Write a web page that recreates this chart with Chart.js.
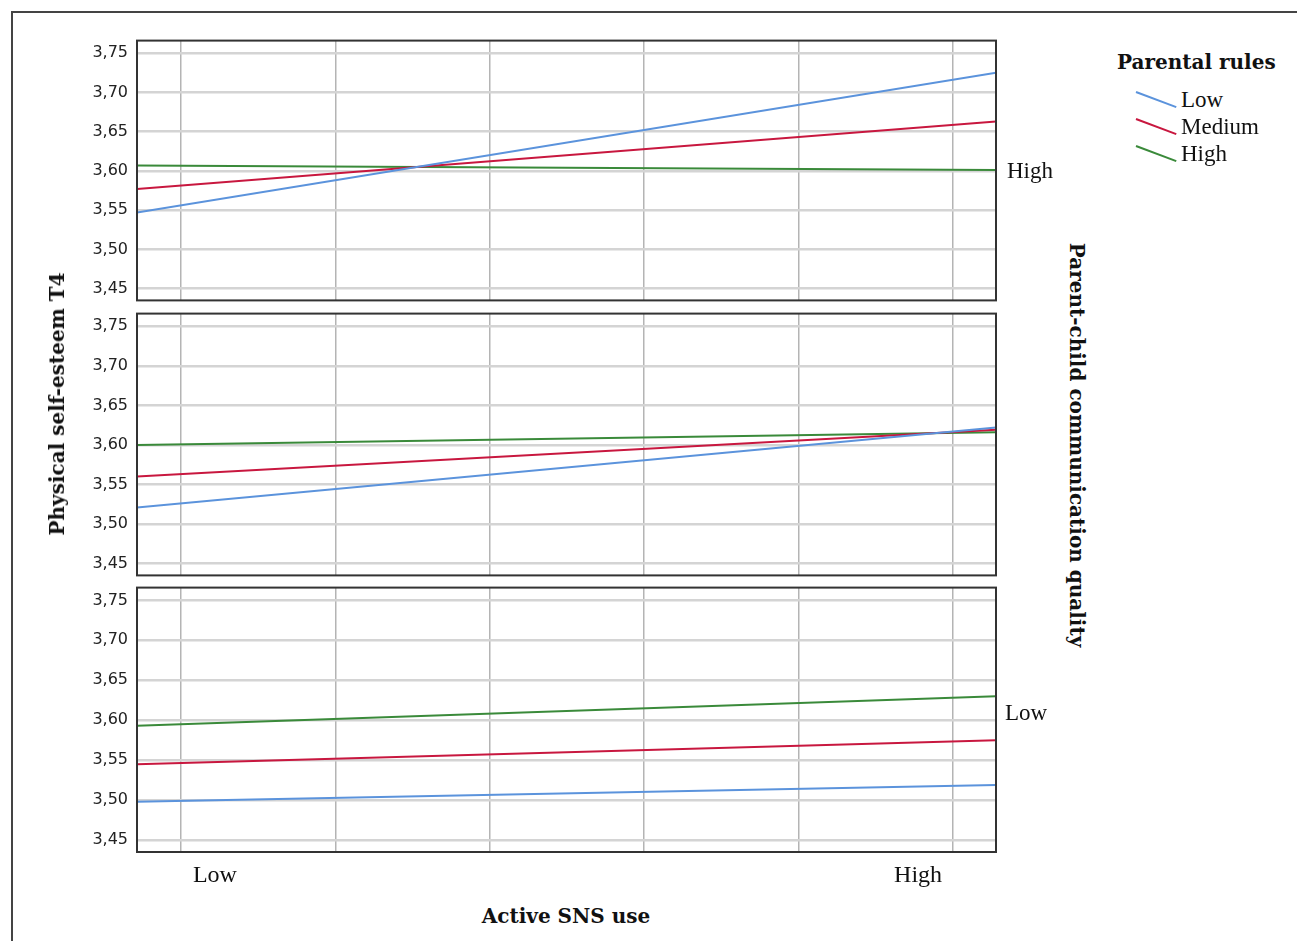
<!DOCTYPE html>
<html>
<head>
<meta charset="utf-8">
<script src="https://cdn.jsdelivr.net/npm/chart.js@4.4.0/dist/chart.umd.min.js"></script>
<style>
  body { margin: 0; background: #fff; width: 1297px; height: 941px; overflow: hidden; position: relative; font-family: "Liberation Serif", serif; color: #111; }
  #frame { position: absolute; left: 11px; top: 11px; width: 1400px; height: 1000px; border: 2px solid #444; }
  canvas { position: absolute; left: 20px; }
  .txt { position: absolute; white-space: nowrap; font-size: 22px; line-height: 1; }
  .bold { font-family: "DejaVu Serif", serif; font-weight: bold; font-size: 20px; }
  .legline { position: absolute; height: 2px; width: 43px; transform-origin: 0 50%; transform: rotate(20.6deg); }
</style>
</head>
<body>
<div id="frame"></div>
<canvas id="panelTop" width="990" height="297" style="top:22px"></canvas>
<canvas id="panelMid" width="990" height="299" style="top:295px"></canvas>
<canvas id="panelBot" width="990" height="323" style="top:569px"></canvas>

<div class="txt bold" style="left:57px;top:404px;transform:translate(-50%,-50%) rotate(-90deg)">Physical self-esteem T4</div>
<div class="txt bold" style="left:1077px;top:445px;transform:translate(-50%,-50%) rotate(90deg)">Parent-child communication quality</div>
<div class="txt bold" style="left:566px;top:916px;transform:translate(-50%,-50%)">Active SNS use</div>
<div class="txt" style="left:1007px;top:170px;transform:translateY(-50%);font-size:23px">High</div>
<div class="txt" style="left:1005px;top:712px;transform:translateY(-50%);font-size:23px">Low</div>
<div class="txt bold" style="left:1117px;top:62px;transform:translateY(-50%)">Parental rules</div>
<div id="legend"></div>

<script>
// Parental rules groups (series)
const seriesNames = ['Low', 'Medium', 'High'];
const seriesColors = ['#5b93dc', '#c8173f', '#3a8a3a'];

// x positions of the line ends (Active SNS use, Low = 0, High = 1)
const xEnds = [-0.057, 1.056];
const xGrid = [0, 0.2, 0.4, 0.6, 0.8, 1];
const xLabelPos = [0.044, 0.955];
const xLabels = ['Low', 'High'];
const yTicks = [3.45, 3.50, 3.55, 3.60, 3.65, 3.70, 3.75];

// top panel: parent-child communication quality = High
const topLow = [3.547, 3.725];
const topMedium = [3.577, 3.663];
const topHigh = [3.607, 3.601];
// middle panel
const midLow = [3.521, 3.622];
const midMedium = [3.560, 3.619];
const midHigh = [3.600, 3.616];
// bottom panel: parent-child communication quality = Low
const botLow = [3.498, 3.519];
const botMedium = [3.545, 3.575];
const botHigh = [3.593, 3.630];

// legend
const legend = document.getElementById('legend');
seriesNames.forEach((name, i) => {
  const y = 91 + i * 27;
  const line = document.createElement('div');
  line.className = 'legline';
  line.style.left = '1136px';
  line.style.top = y + 'px';
  line.style.background = seriesColors[i];
  legend.appendChild(line);
  const t = document.createElement('div');
  t.className = 'txt';
  t.style.fontSize = '23px';
  t.style.left = '1181px';
  t.style.top = (y + 8) + 'px';
  t.style.transform = 'translateY(-50%)';
  t.innerText = name;
  legend.appendChild(t);
});

// frame around each panel
const panelBorder = {
  id: 'panelBorder',
  afterDraw(chart) {
    const { ctx, chartArea: a } = chart;
    ctx.save();
    ctx.strokeStyle = '#333';
    ctx.lineWidth = 2;
    ctx.strokeRect(a.left, a.top, a.right - a.left, a.bottom - a.top);
    ctx.restore();
  }
};

function makePanel(id, low, medium, high, showX) {
  const ctx = document.getElementById(id).getContext('2d');
  const toPts = vals => xEnds.map((x, i) => ({ x: x, y: vals[i] }));
  return new Chart(ctx, {
    type: 'line',
    data: {
      datasets: [low, medium, high].map((vals, i) => ({
        label: seriesNames[i],
        data: toPts(vals),
        borderColor: seriesColors[i],
        borderWidth: 2,
        pointRadius: 0,
        tension: 0,
      })),
    },
    options: {
      responsive: false,
      animation: false,
      layout: { padding: { top: 8, bottom: showX ? 0 : 8, right: 14, left: 0 } },
      plugins: { legend: { display: false }, tooltip: { enabled: false } },
      scales: {
        x: {
          type: 'linear',
          min: xEnds[0],
          max: xEnds[1],
          border: { display: false },
          afterBuildTicks: scale => {
            scale.ticks = xGrid.concat(xLabelPos).sort((a, b) => a - b).map(v => ({ value: v }));
          },
          afterFit: scale => { scale.height = showX ? 40 : 0; },
          grid: {
            drawTicks: false,
            lineWidth: 1.5,
            color: c => (xLabelPos.includes(c.tick && c.tick.value) ? 'rgba(0,0,0,0)' : '#b4b4b4'),
          },
          ticks: {
            display: showX,
            autoSkip: false,
            maxRotation: 0,
            padding: 9,
            color: '#111',
            font: { family: 'Liberation Serif', size: 24 },
            callback: v => {
              const k = xLabelPos.indexOf(v);
              return k >= 0 ? xLabels[k] : '';
            },
          },
        },
        y: {
          min: 3.435,
          max: 3.766,
          border: { display: false },
          afterBuildTicks: scale => { scale.ticks = yTicks.map(v => ({ value: v })); },
          afterFit: scale => { scale.width = 117; },
          grid: { drawTicks: false, lineWidth: 2.5, color: '#d4d4d4' },
          ticks: {
            padding: 9,
            color: '#222',
            font: { family: 'DejaVu Sans', size: 16 },
            callback: v => v.toFixed(2).replace('.', ','),
          },
        },
      },
    },
    plugins: [panelBorder],
  });
}

makePanel('panelTop', topLow, topMedium, topHigh, false);
makePanel('panelMid', midLow, midMedium, midHigh, false);
makePanel('panelBot', botLow, botMedium, botHigh, true);
</script>
</body>
</html>
